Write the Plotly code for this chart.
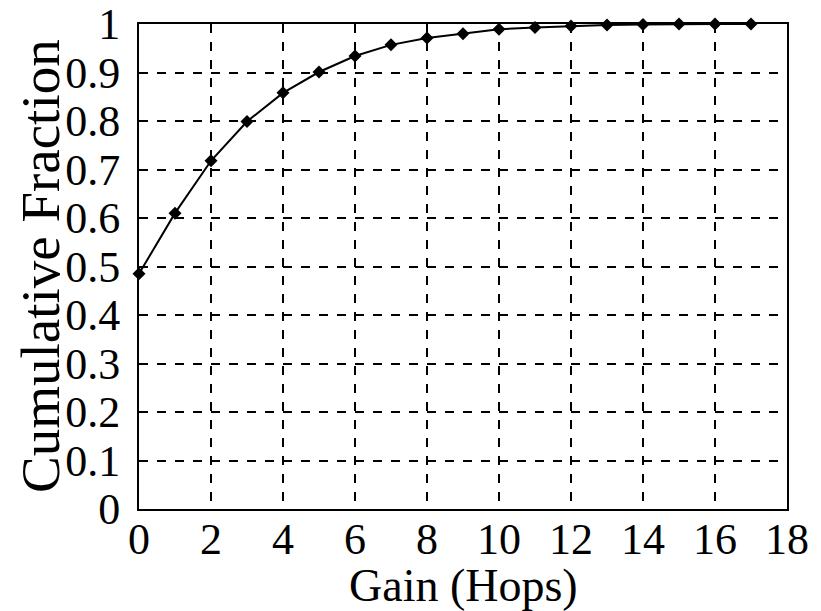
import plotly.graph_objects as go

gain = [0, 1, 2, 3, 4, 5, 6, 7, 8, 9, 10, 11, 12, 13, 14, 15, 16, 17]
frac = [0.485, 0.61, 0.718, 0.799, 0.858, 0.901, 0.934, 0.957, 0.971, 0.980, 0.989, 0.993, 0.996, 0.998, 0.999, 1.0, 1.0, 1.0]
x_ticks = list(range(0, 19, 2))
y_ticks = [0, 0.1, 0.2, 0.3, 0.4, 0.5, 0.6, 0.7, 0.8, 0.9, 1]
y_labels = ["0", "0.1", "0.2", "0.3", "0.4", "0.5", "0.6", "0.7", "0.8", "0.9", "1"]
x_title = "Gain (Hops)"
y_title = "Cumulative Fraction"

fig = go.Figure()
fig.add_trace(go.Scatter(
    x=gain, y=frac, mode="lines+markers",
    line=dict(color="black", width=2),
    marker=dict(symbol="diamond", size=10, color="black"),
    cliponaxis=False, showlegend=False,
))

fam = "Liberation Serif, Times New Roman, serif"
fig.update_layout(
    width=821, height=611,
    margin=dict(l=139, r=34, t=24, b=102, autoexpand=False),
    paper_bgcolor="white", plot_bgcolor="white",
    font=dict(family=fam, color="black"),
    xaxis=dict(
        range=[0, 18], tickvals=x_ticks, showgrid=True, automargin=False,
        gridcolor="black", griddash="dash", gridwidth=1.5,
        showline=True, linecolor="black", linewidth=2, mirror=True,
        zeroline=False, ticks="", ticklen=0, ticklabelstandoff=-10,
        ticklabeloverflow="allow",
        tickfont=dict(family=fam, size=44, color="black"),
    ),
    yaxis=dict(
        range=[0, 1], tickvals=y_ticks, ticktext=y_labels, showgrid=True, automargin=False,
        gridcolor="black", griddash="dash", gridwidth=1.5,
        showline=True, linecolor="black", linewidth=2, mirror=True,
        zeroline=False, ticks="", ticklen=0, ticklabelstandoff=8,
        ticklabeloverflow="allow",
        tickfont=dict(family=fam, size=44, color="black"),
    ),
    annotations=[
        dict(text=x_title, xref="paper", yref="paper", x=0.5, y=-0.158, xanchor="center",
             yanchor="middle", showarrow=False,
             font=dict(family=fam, size=46, color="black")),
        dict(text=y_title, xref="paper", yref="paper", x=-0.152, y=0.5, xanchor="center",
             yanchor="middle", textangle=-90, showarrow=False,
             font=dict(family=fam, size=55, color="black")),
    ],
)
fig.write_html("out.html")
